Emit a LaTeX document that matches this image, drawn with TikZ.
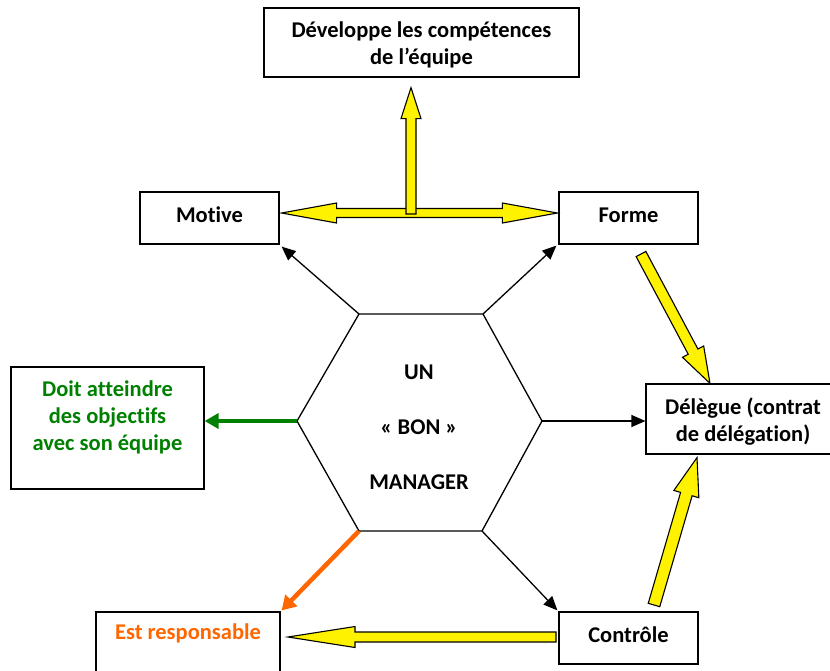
\documentclass[tikz,border=0pt]{standalone}
\usepackage{fontspec}
\setmainfont{Carlito}[Ligatures=NoCommon]
\usetikzlibrary{calc,arrows.meta}
\definecolor{wgreen}{RGB}{0,128,0}
\definecolor{worange}{RGB}{255,102,0}
\newcommand\yarrow[5]{%
  \path ($(#2)!#5!(#1)$) coordinate (yh);
  \draw[yarr] ($(#1)!#3!90:(#2)$) -- ($(yh)!#3!90:(#2)$) -- ($(yh)!#4!90:(#2)$) -- (#2)
    -- ($(yh)!#4!-90:(#2)$) -- ($(yh)!#3!-90:(#2)$) -- ($(#1)!#3!-90:(#2)$) -- cycle;}
\newcommand\ydarrow[5]{%
  \path ($(#1)!#5!(#2)$) coordinate (yha) ($(#2)!#5!(#1)$) coordinate (yhb);
  \draw[yarr] (#1) -- ($(yha)!#4!90:(#2)$) -- ($(yha)!#3!90:(#2)$) -- ($(yhb)!#3!90:(#2)$)
    -- ($(yhb)!#4!90:(#2)$) -- (#2) -- ($(yhb)!#4!-90:(#2)$) -- ($(yhb)!#3!-90:(#2)$)
    -- ($(yha)!#3!-90:(#2)$) -- ($(yha)!#4!-90:(#2)$) -- cycle;}
\tikzset{
  box/.style={draw, line width=1.2pt, inner sep=0pt, align=center, font=\bfseries\fontsize{22.5}{27.5}\selectfont},
  onebox/.style={box, text height=16pt, text depth=8pt, minimum width=139pt, minimum height=52pt},
  txt/.style={inner sep=0pt, align=center, font=\bfseries\fontsize{22.5}{27}\selectfont},
  yarr/.style={fill=yellow, draw=black, line width=1.1pt, line join=miter},
  conn/.style={line width=1.3pt, -{Triangle[length=14pt,width=12pt]}},
  gconn/.style={wgreen, line width=4pt, -{Triangle[length=14pt,width=15pt]}},
  oconn/.style={worange, line width=4.5pt, -{Triangle[length=14pt,width=16pt]}},
  hexline/.style={line width=1.3pt, line join=miter}
}
\begin{document}
\begin{tikzpicture}[x=1pt,y=-1pt]
\useasboundingbox (0,0) rectangle (830,670);
\clip (0,0) rectangle (830,670);
% boxes
\node[box, minimum width=315pt, minimum height=69pt] (dev) at (421.5,42.5) {};
\node[txt] (devtxt) at (421.5,45) {Développe les compétences\\de l’équipe};
\node[onebox] (motive) at (209.5,218) {Motive};
\node[onebox] (forme) at (628.5,218) {Forme};
\node[box, minimum width=193pt, minimum height=122pt] (doit) at (107.5,428) {};
\node[txt, text=wgreen] (doittxt) at (107.5,417.5) {Doit atteindre\\des objectifs\\avec son équipe};
\node[box, minimum width=194pt, minimum height=70pt] (delegue) at (743,419) {};
\node[txt] (deltxt) at (743,422) {Délègue (contrat\\de délégation)};
\node[onebox] (controle) at (628.5,638) {Contrôle};
\node[box, minimum width=184pt, minimum height=100pt] (est) at (188,662) {};
\node[txt, text=worange] (esttxt) at (188,633) {Est responsable};
% hexagon
\coordinate (h1) at (359,314);
\coordinate (h2) at (483,314);
\coordinate (h3) at (542,421);
\coordinate (h4) at (482,531);
\coordinate (h5) at (359,531);
\coordinate (h6) at (297,421);
\draw[hexline] (h1) -- (h2) -- (h3) -- (h4) -- (h5) -- (h6) -- cycle;
\node[txt] (un) at (419,372) {UN};
\node[txt] (bon) at (419,427) {« BON »};
\node[txt] (mgr) at (419,482) {MANAGER};
% connectors
\draw[conn] (h1) -- ([shift={(2pt,-2pt)}]motive.south east);
\draw[conn] (h2) -- ([shift={(-2pt,-1pt)}]forme.south west);
\draw[conn] (h3) -- (h3 -| delegue.west);
\draw[conn] (h4) -- ([shift={(-1pt,1pt)}]controle.north west);
\draw[oconn] (h5) -- ([shift={(1pt,1pt)}]est.north east);
\draw[gconn] (h6) -- (h6 -| doit.east);
% yellow block arrows
\coordinate (mL) at ([shift={(2pt,5pt)}]motive.east);
\coordinate (fR) at ([shift={(-1pt,5pt)}]forme.west);
\ydarrow{mL}{fR}{4.5pt}{10pt}{55pt}
\coordinate (vT) at (411,214);
\coordinate (vH) at ([yshift=-10pt]dev.south -| vT);
\yarrow{vT}{vH}{5pt}{10pt}{31pt}
\coordinate (fdT) at (641,254);
\coordinate (fdH) at ([xshift=-33pt]delegue.north);
\yarrow{fdT}{fdH}{5.5pt}{12pt}{36pt}
\coordinate (cdT) at (654,605);
\coordinate (cdH) at ([xshift=-46pt,yshift=-3pt]delegue.south);
\yarrow{cdT}{cdH}{6pt}{13pt}{38pt}
\coordinate (ceT) at (556,637);
\coordinate (ceH) at (288,637);
\yarrow{ceT}{ceH}{5pt}{10.5pt}{67pt}
\end{tikzpicture}
\end{document}
